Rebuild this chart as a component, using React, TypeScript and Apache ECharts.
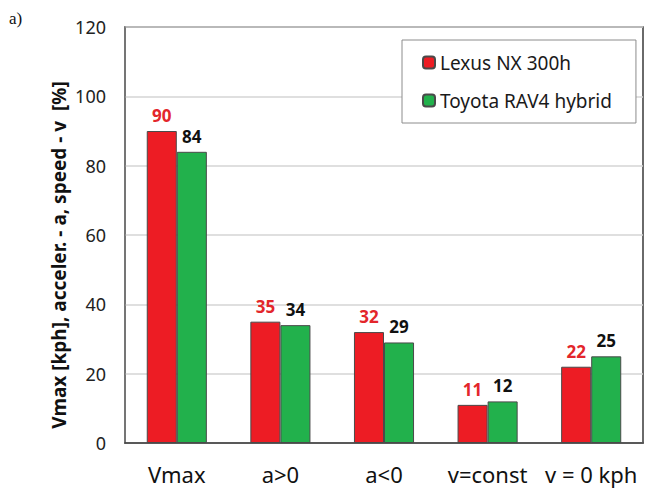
import React, { useEffect, useRef } from "react";
import * as echarts from "echarts";

const categories = ["Vmax", "a>0", "a<0", "v=const", "v = 0 kph"];
const lexusValues = [90, 35, 32, 11, 22];
const toyotaValues = [84, 34, 29, 12, 25];
const seriesNames = ["Lexus NX 300h", "Toyota RAV4 hybrid"];
const yAxisTitle = "Vmax [kph], acceler. - a, speed - v  [%]";

const FONT = "'Noto Sans', 'Open Sans', sans-serif";

export default function App() {
  const ref = useRef<HTMLDivElement>(null);
  useEffect(() => {
    if (!ref.current) return;
    const chart = echarts.init(ref.current, undefined, { renderer: "svg" });
    chart.setOption({
      animation: false,
      backgroundColor: "#ffffff",
      textStyle: { fontFamily: FONT },
      grid: {
        left: 125,
        right: 5,
        top: 27,
        bottom: 45,
        show: true,
        borderColor: "#3a3a3a",
        borderWidth: 1.5,
        containLabel: false,
      },
      legend: {
        orient: "vertical",
        left: 402,
        top: 40,
        itemWidth: 12,
        itemHeight: 12,
        itemGap: 19,
        padding: [13, 24, 13, 20],
        borderColor: "#8c8c8c",
        borderWidth: 1,
        backgroundColor: "#ffffff",
        textStyle: { fontSize: 19, color: "#1a1a1a", fontFamily: FONT },
        data: seriesNames,
      },
      xAxis: {
        type: "category",
        data: categories,
        axisLine: { lineStyle: { color: "#3a3a3a", width: 1.5 } },
        axisTick: { show: false },
        axisLabel: {
          interval: 0,
          fontSize: 22,
          lineHeight: 22,
          color: "#111",
          margin: 20,
          fontFamily: FONT,
        },
      },
      yAxis: {
        type: "value",
        min: 0,
        max: 120,
        interval: 20,
        axisLine: { show: true, lineStyle: { color: "#7a7a7a", width: 1.5 } },
        axisTick: { show: false },
        axisLabel: { fontSize: 18, color: "#222", margin: 19, fontFamily: FONT },
        splitLine: { lineStyle: { color: "#d4d4d4", width: 1.5 } },
      },
      series: [
        {
          name: seriesNames[0],
          type: "bar",
          data: lexusValues,
          barWidth: "29%",
          barGap: "0%",
          itemStyle: { color: "#ed1c24", borderColor: "#4a4a4a", borderWidth: 1 },
          label: {
            show: true,
            position: "top",
            distance: 7,
            color: "#e3262b",
            fontWeight: "bold",
            fontSize: 17,
            fontFamily: FONT,
          },
        },
        {
          name: seriesNames[1],
          type: "bar",
          data: toyotaValues,
          barWidth: "29%",
          barGap: "0%",
          itemStyle: { color: "#22b14c", borderColor: "#4a4a4a", borderWidth: 1 },
          label: {
            show: true,
            position: "top",
            distance: 7,
            color: "#111",
            fontWeight: "bold",
            fontSize: 17,
            fontFamily: FONT,
          },
        },
      ],
      graphic: [
        {
          type: "text",
          x: 59,
          y: 255,
          rotation: Math.PI / 2,
          style: {
            text: yAxisTitle,
            fontSize: 19,
            fontWeight: "bold",
            fontFamily: FONT,
            fill: "#111",
            textAlign: "center",
            textVerticalAlign: "middle",
          },
        },
        {
          type: "text",
          x: 9,
          y: 10,
          style: {
            text: "a)",
            fontSize: 17,
            fontFamily: "'Liberation Serif', 'DejaVu Serif', serif",
            fill: "#111",
          },
        },
      ],
    });
    return () => chart.dispose();
  }, []);
  return (
    <div
      ref={ref}
      style={{ position: "absolute", left: 0, top: 0, width: 648, height: 488 }}
    />
  );
}
